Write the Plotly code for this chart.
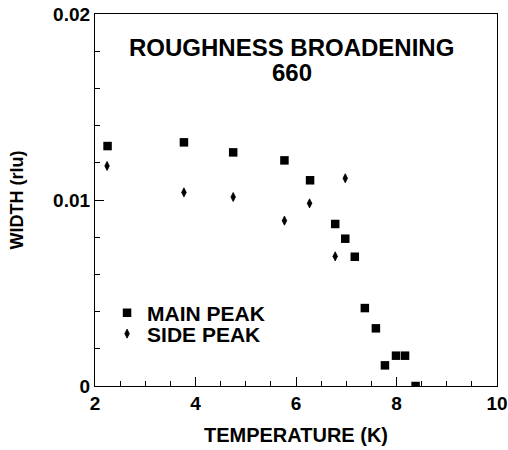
import plotly.graph_objects as go

# Data
main_T = [2.25, 3.77, 4.75, 5.77, 6.28, 6.78, 6.98, 7.17, 7.37, 7.59, 7.77, 7.99, 8.17, 8.38]
main_W = [0.0129, 0.0131, 0.01256, 0.01213, 0.01106, 0.00871, 0.00792, 0.00695, 0.00419, 0.0031, 0.00111, 0.00163, 0.00163, 0.0]
side_T = [2.24, 3.77, 4.75, 5.77, 6.27, 6.78, 6.98]
side_W = [0.01183, 0.01041, 0.01016, 0.00889, 0.00982, 0.00697, 0.01117]

x_ticks = [2, 4, 6, 8, 10]
x_tick_labels = ["2", "4", "6", "8", "10"]
y_ticks = [0, 0.01, 0.02]
y_tick_labels = ["0", "0.01", "0.02"]

FONT = "Liberation Sans, Arial, Helvetica, sans-serif"

fig = go.Figure()
fig.add_trace(go.Scatter(
    x=main_T, y=main_W, mode="markers", name="MAIN PEAK", legend="legend",
    marker=dict(symbol="square", size=8.5, color="black"),
))
fig.add_trace(go.Scatter(
    x=side_T, y=side_W, mode="markers", name="SIDE PEAK", legend="legend2",
    marker=dict(symbol="diamond-tall", size=6.5, color="black",
                line=dict(color="black", width=0.8)),
))

axis_common = dict(
    showgrid=False, zeroline=False, showline=True, linecolor="black", linewidth=1.2,
    mirror=True, ticks="inside", tickcolor="black", ticklen=9, tickwidth=1.2,
    automargin=False,
    tickfont=dict(family=FONT, size=19, color="black", weight="bold"),
)

fig.update_xaxes(
    range=[2, 10], tickvals=x_ticks, ticktext=x_tick_labels,
    minor=dict(dtick=0.5, ticks="inside", ticklen=5, tickcolor="black", tickwidth=1),
    title=dict(text="TEMPERATURE (K)", font=dict(family=FONT, size=20, color="black", weight="bold"), standoff=15),
    **axis_common,
)
fig.update_yaxes(
    range=[0, 0.02], tickvals=y_ticks, ticktext=y_tick_labels,
    minor=dict(dtick=0.002, ticks="inside", ticklen=5, tickcolor="black", tickwidth=1),
    title=dict(text="WIDTH (rlu)", font=dict(family=FONT, size=18, color="black", weight="bold"), standoff=24),
    **axis_common,
)

fig.add_annotation(text="ROUGHNESS BROADENING", xref="paper", yref="paper",
                   x=0.49, y=0.911, xanchor="center", yanchor="middle", showarrow=False,
                   font=dict(family=FONT, size=24, color="black", weight="bold"))
fig.add_annotation(text="660", xref="paper", yref="paper",
                   x=0.49, y=0.844, xanchor="center", yanchor="middle", showarrow=False,
                   font=dict(family=FONT, size=24, color="black", weight="bold"))

legend_common = dict(xanchor="left", yanchor="middle",
                     bgcolor="rgba(0,0,0,0)", borderwidth=0,
                     font=dict(family=FONT, size=21, color="black", weight="bold"),
                     itemwidth=30)

fig.update_layout(
    width=508, height=450,
    margin=dict(l=95, r=11, t=14, b=64, autoexpand=False),
    paper_bgcolor="white", plot_bgcolor="white",
    showlegend=True,
    legend=dict(x=0.03, y=(386 - 313) / 372, **legend_common),
    legend2=dict(x=0.03, y=(386 - 334) / 372, **legend_common),
)

fig.write_html("out.html")
